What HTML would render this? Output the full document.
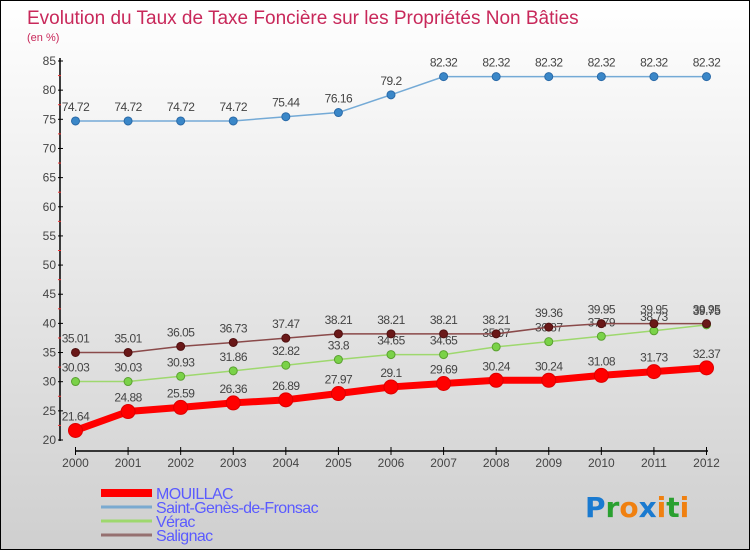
<!DOCTYPE html>
<html><head><meta charset="utf-8"><style>
html,body{margin:0;padding:0}
body{width:750px;height:550px;overflow:hidden;font-family:"Liberation Sans",sans-serif}
#wrap{position:relative;width:748px;height:548px;border:1px solid #000;background:linear-gradient(#ffffff,#cfcfcf)}
</style></head><body>
<div id="wrap">
<svg id="chart" width="748" height="548" style="position:absolute;left:0;top:0"></svg>
</div>
<script>
const years=["2000","2001","2002","2003","2004","2005","2006","2007","2008","2009","2010","2011","2012"];
const mouillac=[21.64,24.88,25.59,26.36,26.89,27.97,29.1,29.69,30.24,30.24,31.08,31.73,32.37];
const saintGenes=[74.72,74.72,74.72,74.72,75.44,76.16,79.2,82.32,82.32,82.32,82.32,82.32,82.32];
const verac=[30.03,30.03,30.93,31.86,32.82,33.8,34.65,34.65,35.97,36.87,37.79,38.73,39.75];
const salignac=[35.01,35.01,36.05,36.73,37.47,38.21,38.21,38.21,38.21,39.36,39.95,39.95,39.95];
const yTicks=[20,25,30,35,40,45,50,55,60,65,70,75,80,85];
const seriesNames=["MOUILLAC","Saint-Genès-de-Fronsac","Vérac","Salignac"];

const NS="http://www.w3.org/2000/svg";
const svg=document.getElementById('chart');
function X(i){return 74.5+i*(631/12);}
function Y(v){return 439-(v-20)*(379/65);}
function mk(t,a,p){const e=document.createElementNS(NS,t);for(const k in a)e.setAttribute(k,a[k]);(p||svg).appendChild(e);return e;}
function txt(x,y,s,a){const e=mk('text',Object.assign({x:x,y:y,'font-family':'Liberation Sans, sans-serif'},a));e.textContent=s;return e;}

const t1=txt(26,23,"Evolution du Taux de Taxe Foncière sur les Propriétés Non Bâties",{'font-size':19,fill:'#c8285a'});


const t2=txt(26,40,"(en %)",{'font-size':11,fill:'#c8285a'});



// axes
const ya=mk('line',{x1:59,y1:57,x2:59,y2:440,stroke:'#000','stroke-width':1.5});


yTicks.forEach(v=>{
  mk('line',{x1:57,x2:62,y1:Y(v),y2:Y(v),stroke:'#000'});
  if(v<85) mk('line',{x1:57,x2:60,y1:Y(v+2.5),y2:Y(v+2.5),stroke:'#e33'});
  const l=txt(55,Y(v)+4,String(v),{'font-size':12,fill:'#444','text-anchor':'end'});
  
  
});
const xa=mk('line',{x1:74,y1:450,x2:707,y2:450,stroke:'#000','stroke-width':1.5});


years.forEach((yr,i)=>{
  mk('line',{x1:X(i),x2:X(i),y1:446,y2:454,stroke:'#000'});
  const l=txt(X(i),466,yr,{'font-size':12,fill:'#444','text-anchor':'middle'});
  
  
});

function series(vals,name,color,dot,w,r,stroke){
  const g=mk('g',{});
  
  
  mk('polyline',{points:vals.map((v,i)=>X(i)+','+Y(v)).join(' '),fill:'none',stroke:color,'stroke-width':w,'stroke-linejoin':'round'},g);
  vals.forEach((v,i)=>{
    const c=mk('circle',{cx:X(i),cy:Y(v),r:r,fill:dot,stroke:stroke,'stroke-width':1},g);
    
    
    const l=txt(X(i),Y(v)-10,String(v),{'font-size':12,fill:'#444','text-anchor':'middle','letter-spacing':'-0.5'},g);
    
    
  });
}
series(saintGenes,'saint-genes','#74aad6','#3a87c8',1.5,4,'#2a6aa8');
series(verac,'verac','#9ed86e','#7ad248',1.5,4,'#5aa030');
series(salignac,'salignac','#8a4a4a','#6a1818',1.5,4,'#501010');
series(mouillac,'mouillac','#f00','#f00',7,7,'#d00');

// legend
const lg=[{c:'#f00',w:8},{c:'#7aaad0',w:3},{c:'#9ed86e',w:3},{c:'#957070',w:3}];
lg.forEach((d,i)=>{
  const y=492+i*14;
  const g=mk('g',{});
  
  
  mk('line',{x1:100,x2:151,y1:y,y2:y,stroke:d.c,'stroke-width':d.w},g);
  txt(155,y+6,seriesNames[i],{'font-size':16,fill:'#5a5aff','letter-spacing':'-0.6'},g);
});
// logo
const logo=mk('text',{x:584,y:516,'font-size':28,'font-family':'DejaVu Sans, sans-serif','font-weight':'bold'});


[['P','#1a7ad0'],['r','#2aa030'],['o','#f08010'],['x','#1a7ad0'],['i','#f08010'],['t','#2aa030'],['i','#f08010']].forEach(([ch,c])=>{
  const s=document.createElementNS(NS,'tspan');s.setAttribute('fill',c);s.textContent=ch;logo.appendChild(s);
});
</script>
</body></html>
